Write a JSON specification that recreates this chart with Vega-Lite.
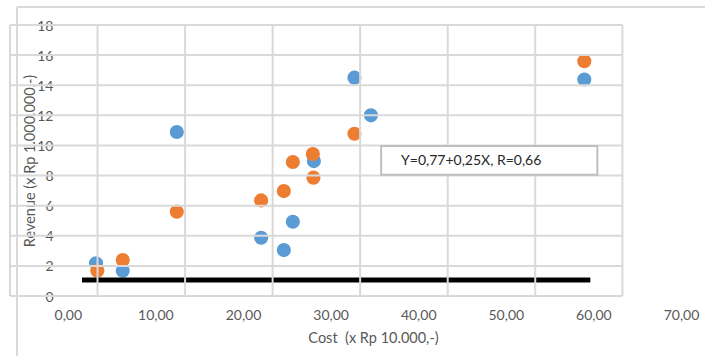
{
  "$schema": "https://vega.github.io/schema/vega-lite/v6.json",
  "width": 671,
  "height": 271,
  "autosize": {"type": "none"},
  "padding": {"left": 10, "top": 25, "right": 24, "bottom": 60},
  "background": "white",
  "config": {"view": {"stroke": null}, "font": "Lato"},
  "datasets": {
    "frame": [
      {"x": -5.8, "y": -5, "x2": -5.8, "y2": 19.19},
      {"x": -5.8, "y": 19.19, "x2": 76, "y2": 19.19}
    ],
    "points": [
      {"series": "Series1", "x": 3.22, "y": 2.17},
      {"series": "Series1", "x": 6.27, "y": 1.68},
      {"series": "Series1", "x": 12.44, "y": 10.89},
      {"series": "Series1", "x": 32.72, "y": 14.5},
      {"series": "Series1", "x": 34.6, "y": 12.0},
      {"series": "Series1", "x": 28.09, "y": 8.96},
      {"series": "Series1", "x": 22.07, "y": 3.87},
      {"series": "Series1", "x": 24.66, "y": 3.05},
      {"series": "Series1", "x": 25.69, "y": 4.93},
      {"series": "Series1", "x": 58.96, "y": 14.38},
      {"series": "Series2", "x": 3.37, "y": 1.68},
      {"series": "Series2", "x": 6.27, "y": 2.39},
      {"series": "Series2", "x": 12.44, "y": 5.6},
      {"series": "Series2", "x": 32.72, "y": 10.78},
      {"series": "Series2", "x": 25.69, "y": 8.9},
      {"series": "Series2", "x": 27.97, "y": 9.43},
      {"series": "Series2", "x": 28.04, "y": 7.86},
      {"series": "Series2", "x": 24.66, "y": 6.97},
      {"series": "Series2", "x": 22.07, "y": 6.35},
      {"series": "Series2", "x": 58.96, "y": 15.6}
    ],
    "bar": [
      {"x": 1.62, "x2": 59.65, "y": 1.06}
    ],
    "grid": [
      {"x": -6.6, "y": 0, "x2": -6.6, "y2": 18},
      {"x": 3.39, "y": 0, "x2": 3.39, "y2": 18},
      {"x": 13.39, "y": 0, "x2": 13.39, "y2": 18},
      {"x": 23.38, "y": 0, "x2": 23.38, "y2": 18},
      {"x": 33.37, "y": 0, "x2": 33.37, "y2": 18},
      {"x": 43.37, "y": 0, "x2": 43.37, "y2": 18},
      {"x": 53.36, "y": 0, "x2": 53.36, "y2": 18},
      {"x": 63.31, "y": 0, "x2": 63.31, "y2": 18},
      {"x": -6.6, "y": 0, "x2": 63.31, "y2": 0},
      {"x": -6.6, "y": 2, "x2": 63.31, "y2": 2},
      {"x": -6.6, "y": 4, "x2": 63.31, "y2": 4},
      {"x": -6.6, "y": 6, "x2": 63.31, "y2": 6},
      {"x": -6.6, "y": 8, "x2": 63.31, "y2": 8},
      {"x": -6.6, "y": 10, "x2": 63.31, "y2": 10},
      {"x": -6.6, "y": 12, "x2": 63.31, "y2": 12},
      {"x": -6.6, "y": 14, "x2": 63.31, "y2": 14},
      {"x": -6.6, "y": 16, "x2": 63.31, "y2": 16},
      {"x": -6.6, "y": 18, "x2": 63.31, "y2": 18}
    ],
    "box": [
      {"x": 35.77, "x2": 60.45, "y": 8.05, "y2": 9.96}
    ],
    "label": [
      {"x": 46.05, "y": 8.95, "text": "Y=0,77+0,25X, R=0,66"}
    ]
  },
  "encoding": {
    "x": {
      "field": "x",
      "type": "quantitative",
      "scale": {"domain": [-6.6, 70], "nice": false, "zero": false},
      "axis": {
        "title": "Cost \u00a0(x Rp 10.000,-)",
        "values": [0, 10, 20, 30, 40, 50, 60, 70],
        "labelExpr": "replace(format(datum.value, '.2f'), '.', ',')",
        "grid": false,
        "domain": false,
        "ticks": false,
        "tickSize": 0,
        "labelPadding": 12,
        "labelFlush": false,
        "labelOverlap": false,
        "labelFont": "Lato",
        "labelFontSize": 14,
        "labelColor": "#595959",
        "titleFont": "Lato",
        "titleFontSize": 14.5,
        "titleFontWeight": "normal",
        "titleColor": "#595959",
        "titlePadding": 9,
        "titleX": 363
      }
    },
    "y": {
      "field": "y",
      "type": "quantitative",
      "scale": {"domain": [0, 18], "nice": false, "zero": false},
      "axis": {
        "title": "Revenue (x Rp 1.000.000,-)",
        "values": [0, 2, 4, 6, 8, 10, 12, 14, 16, 18],
        "offset": -45,
        "grid": false,
        "domain": false,
        "ticks": false,
        "tickSize": 0,
        "labelPadding": 2,
        "labelFlush": false,
        "labelOverlap": false,
        "labelOffset": 1,
        "labelFont": "Lato",
        "labelFontSize": 14,
        "labelColor": "#595959",
        "titleFont": "Lato",
        "titleFontSize": 14.5,
        "titleFontWeight": "normal",
        "titleColor": "#595959",
        "titlePadding": -1
      }
    }
  },
  "layer": [
    {
      "data": {"name": "frame"},
      "mark": {"type": "rule", "color": "#d9d9d9", "strokeWidth": 2},
      "encoding": {"x2": {"field": "x2"}, "y2": {"field": "y2"}}
    },
    {
      "data": {"name": "points"},
      "mark": {"type": "circle", "size": 200, "opacity": 1},
      "encoding": {
        "color": {
          "field": "series",
          "type": "nominal",
          "scale": {"domain": ["Series1", "Series2"], "range": ["#5B9BD5", "#ED7D31"]},
          "legend": null
        }
      }
    },
    {
      "data": {"name": "bar"},
      "mark": {"type": "rule", "color": "#000000", "strokeWidth": 5},
      "encoding": {"x2": {"field": "x2"}}
    },
    {
      "data": {"name": "grid"},
      "mark": {"type": "rule", "color": "#d9d9d9", "strokeWidth": 2},
      "encoding": {"x2": {"field": "x2"}, "y2": {"field": "y2"}}
    },
    {
      "data": {"name": "box"},
      "mark": {"type": "rect", "fill": "white", "stroke": "#bfbfbf", "strokeWidth": 2},
      "encoding": {"x2": {"field": "x2"}, "y2": {"field": "y2"}}
    },
    {
      "data": {"name": "label"},
      "mark": {"type": "text", "font": "Lato", "fontSize": 14, "color": "#262626", "align": "center", "baseline": "middle"},
      "encoding": {"text": {"field": "text"}}
    }
  ]
}
